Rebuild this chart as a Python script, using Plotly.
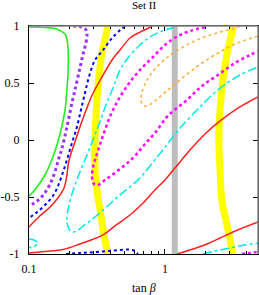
import plotly.graph_objects as go

# ---- data (tan beta, y) ----
yellow_left_x = [0.381, 0.338, 0.316, 0.306, 0.306, 0.316, 0.338, 0.362, 0.381]
yellow_left_y = [1.0, 0.702, 0.351, 0.0, -0.263, -0.439, -0.658, -0.877, -1.0]
yellow_right_x = [3.21, 2.90, 2.67, 2.54, 2.49, 2.54, 2.62, 2.86, 3.16]
yellow_right_y = [1.0, 0.789, 0.526, 0.263, 0.0, -0.263, -0.526, -0.746, -1.0]
grey_x = [1.18, 1.18]
grey_y = [-1.0, 1.0]

green_x = [0.100, 0.131, 0.155, 0.172, 0.184, 0.190, 0.194, 0.194, 0.190, 0.184, 0.172,
           0.158, 0.145, 0.131, 0.116, 0.107, 0.100]
green_y = [0.991, 0.987, 0.978, 0.956, 0.93, 0.886, 0.789, 0.614, 0.439, 0.263, 0.088,
           -0.070, -0.193, -0.307, -0.404, -0.456, -0.491]

purple_x = [0.211, 0.245, 0.263, 0.267, 0.263, 0.249, 0.237, 0.222, 0.207, 0.190, 0.175,
            0.166, 0.155, 0.143, 0.129, 0.115, 0.100]
purple_y = [1.0, 0.991, 0.965, 0.93, 0.860, 0.746, 0.632, 0.482, 0.325, 0.114, -0.070,
            -0.158, -0.281, -0.386, -0.474, -0.535, -0.579]

blue_x = [0.508, 0.415, 0.350, 0.306, 0.276, 0.258, 0.241, 0.225, 0.207, 0.190, 0.175,
          0.161, 0.148, 0.131, 0.115, 0.100]
blue_y = [1.0, 0.904, 0.789, 0.702, 0.553, 0.412, 0.263, 0.114, -0.026, -0.175, -0.307,
          -0.421, -0.5, -0.570, -0.632, -0.684]
blue_low_x = [0.187, 0.237, 0.316, 0.428, 0.534, 0.591, 0.623, 0.631]
blue_low_y = [-1.0, -0.991, -0.982, -0.969, -0.961, -0.969, -0.991, -1.0]

red1_x = [0.802, 0.655, 0.553, 0.467, 0.408, 0.344, 0.296, 0.263, 0.237, 0.214, 0.200,
          0.194, 0.190, 0.181, 0.163, 0.143, 0.120, 0.100]
red1_y = [0.996, 0.947, 0.895, 0.789, 0.702, 0.553, 0.412, 0.263, 0.114, -0.044, -0.149,
          -0.219, -0.307, -0.421, -0.509, -0.588, -0.667, -0.763]
red2_x = [0.100, 0.131, 0.178, 0.237, 0.350, 0.428, 0.553, 0.678, 0.843, 1.0, 1.184,
          1.527, 1.968, 2.54, 3.27, 4.83]
red2_y = [-0.991, -0.978, -0.961, -0.912, -0.833, -0.754, -0.658, -0.561, -0.439, -0.351,
          -0.246, -0.088, 0.053, 0.167, 0.263, 0.377]
red3_x = [1.225, 1.527, 2.04, 2.54, 3.16, 4.83]
red3_y = [-1.0, -0.965, -0.912, -0.860, -0.807, -0.719]

cyan1_x = [1.184, 0.918, 0.776, 0.655, 0.534, 0.467, 0.415, 0.368, 0.332, 0.301, 0.267,
           0.237, 0.214, 0.197, 0.190, 0.194, 0.207, 0.225, 0.245, 0.281, 0.332, 0.394,
           0.467, 0.553, 0.655, 0.776, 0.951, 1.29, 1.72, 2.45, 3.56, 4.83]
cyan1_y = [0.991, 0.947, 0.904, 0.833, 0.719, 0.614, 0.456, 0.307, 0.158, 0.026, -0.132,
           -0.281, -0.421, -0.570, -0.684, -0.763, -0.807, -0.798, -0.763, -0.711, -0.640,
           -0.561, -0.482, -0.412, -0.333, -0.228, -0.096, 0.105, 0.263, 0.439, 0.570, 0.640]
cyan2_x = [0.100, 0.109, 0.116, 0.109, 0.100]
cyan2_y = [-0.868, -0.877, -0.904, -0.934, -0.943]
cyan3_x = [1.90, 2.33, 3.01, 3.87, 4.83]
cyan3_y = [-1.0, -0.974, -0.947, -0.921, -0.904]

magenta1_x = [1.968, 1.527, 1.247, 1.0, 0.816, 0.655, 0.553, 0.467, 0.408, 0.362, 0.332,
              0.311, 0.296, 0.291, 0.301, 0.321, 0.362, 0.428, 0.508, 0.601, 0.713, 0.843,
              1.05, 1.45, 1.87, 2.45, 3.27, 4.22, 4.83]
magenta1_y = [0.991, 0.956, 0.912, 0.833, 0.728, 0.614, 0.509, 0.377, 0.246, 0.088, -0.044,
              -0.149, -0.237, -0.333, -0.386, -0.395, -0.351, -0.289, -0.219, -0.140, -0.035,
              0.061, 0.211, 0.351, 0.474, 0.570, 0.675, 0.746, 0.781]
magenta2_x = [3.68, 4.22, 4.83]
magenta2_y = [-1.0, -0.991, -0.982]

orange_x = [3.56, 3.27, 2.54, 1.87, 1.40, 1.05, 0.843, 0.738, 0.678, 0.667, 0.689, 0.738,
            0.843, 1.05, 1.40, 1.87, 2.54, 3.27, 4.83]
orange_y = [1.0, 0.982, 0.947, 0.895, 0.825, 0.728, 0.623, 0.526, 0.421, 0.351, 0.307,
            0.298, 0.342, 0.439, 0.561, 0.675, 0.772, 0.842, 0.912]

x_tickvals = [0.1, 1]
x_ticktext = ["0.1", "1"]
x_minor = [0.2, 0.3, 0.4, 0.5, 0.6, 0.7, 0.8, 0.9, 2, 3, 4]
y_tickvals = [-1, -0.5, 0, 0.5, 1]
y_ticktext = ["-1", "-0.5", "0", "0.5", "1"]

fig = go.Figure()


def add(x, y, color, width, dash="solid"):
    fig.add_trace(go.Scatter(x=x, y=y, mode="lines",
                             line=dict(color=color, width=width, dash=dash, shape="spline"),
                             hoverinfo="skip", showlegend=False))


add(yellow_left_x, yellow_left_y, "#ffff00", 7)
add(yellow_right_x, yellow_right_y, "#ffff00", 7)
add(grey_x, grey_y, "#bdbdbd", 6)

add(green_x, green_y, "#22ee22", 1.6)
add(purple_x, purple_y, "#9b30ff", 3, "dot")
add(blue_x, blue_y, "#0000ff", 2, "dot")
add(blue_low_x, blue_low_y, "#0000ff", 2, "dot")
add(red1_x, red1_y, "#ff2020", 1.5)
add(red2_x, red2_y, "#ff2020", 1.5)
add(red3_x, red3_y, "#ff2020", 1.5)
add(cyan1_x, cyan1_y, "#00e8e8", 1.5, "dashdot")
add(cyan2_x, cyan2_y, "#00e8e8", 1.5, "dashdot")
add(cyan3_x, cyan3_y, "#00e8e8", 1.5, "dashdot")
add(magenta1_x, magenta1_y, "#ff00ff", 2.5, "dot")
add(magenta2_x, magenta2_y, "#ff00ff", 2.5, "dot")
add(orange_x, orange_y, "#ffad33", 1.5, "dot")

font = dict(family="Liberation Serif", size=12, color="black")

fig.update_layout(
    width=259, height=295,
    margin=dict(l=29, r=1, t=26, b=41),
    plot_bgcolor="white", paper_bgcolor="white",
    font=font,
    xaxis=dict(type="log", range=[-1, 0.684], tickvals=x_tickvals, ticktext=x_ticktext,
               ticks="inside", ticklen=5, tickcolor="black", showgrid=False, zeroline=False,
               showline=True, linecolor="black", linewidth=1, mirror="ticks",
               ticklabelstandoff=4,
               minor=dict(tickvals=x_minor, ticks="inside", ticklen=3, tickcolor="black",
                          showgrid=False)),
    yaxis=dict(range=[-1, 1], tickvals=y_tickvals, ticktext=y_ticktext,
               ticks="inside", ticklen=5, tickcolor="black", showgrid=False, zeroline=False,
               showline=True, linecolor="black", linewidth=1, mirror="ticks",
               ticklabelstandoff=6),
    shapes=[
        dict(type="line", xref="paper", yref="paper", x0=0, x1=1, y0=1, y1=1,
             line=dict(color="#888888", width=1.5), layer="above"),
        dict(type="line", xref="paper", yref="paper", x0=1, x1=1, y0=0, y1=1,
             line=dict(color="#888888", width=1.5), layer="above"),
    ],
    annotations=[
        dict(text="Set II", xref="paper", yref="paper", x=0.5, y=1,
             yshift=13, showarrow=False, font=dict(family="Liberation Serif", size=11,
                                                   color="black"), yanchor="bottom"),
        dict(text="tan <i>β</i>", xref="paper", yref="paper", x=0.5, y=0,
             yshift=-34, showarrow=False, font=font, yanchor="middle"),
    ],
)

fig.write_html("out.html", config={"displayModeBar": False},
               post_script="document.body.style.margin='0px';")
